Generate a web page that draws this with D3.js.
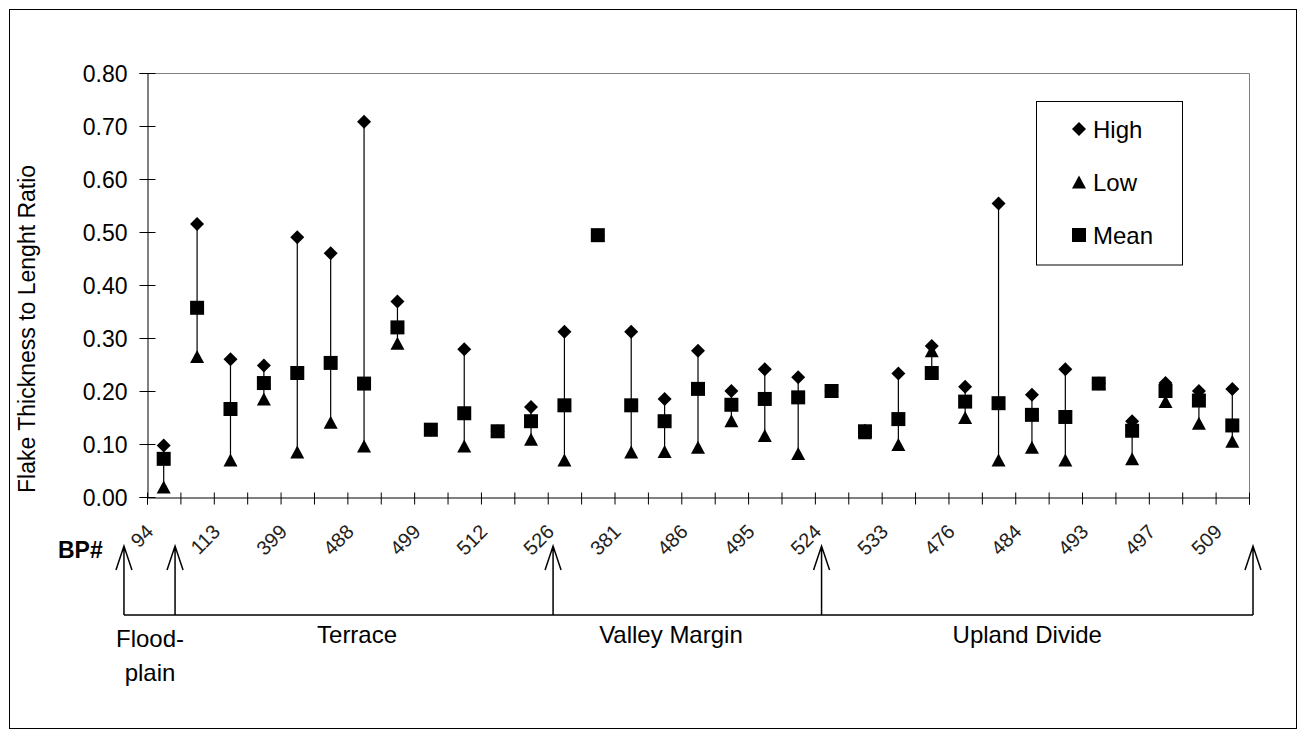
<!DOCTYPE html>
<html>
<head>
<meta charset="utf-8">
<script src="https://cdn.jsdelivr.net/npm/d3@7"></script>
<style>
  body { margin: 0; background: #fff; }
  svg { display: block; }
  text { font-family: "Liberation Sans", Arial, sans-serif; fill: #000; }
</style>
</head>
<body>
<svg id="chart" width="1305" height="737"></svg>
<script>
// 33 sites (BP#), only every other label is printed on the source chart
var bpLabels = ["94", "", "113", "", "399", "", "488", "", "499", "", "512", "", "526", "",
  "381", "", "486", "", "495", "", "524", "", "533", "", "476", "", "484", "", "493", "",
  "497", "", "509"];

var high = [0.097, 0.515, 0.26, 0.248, 0.49, 0.46, 0.708, 0.369, 0.127, 0.279, 0.124,
  0.17, 0.312, 0.494, 0.312, 0.185, 0.276, 0.2, 0.241, 0.226, 0.2, 0.125, 0.233, 0.285,
  0.208, 0.554, 0.193, 0.241, 0.214, 0.143, 0.215, 0.2, 0.204];
var low = [0.019, 0.265, 0.07, 0.185, 0.085, 0.141, 0.096, 0.29, 0.127, 0.096, 0.124,
  0.109, 0.07, 0.494, 0.085, 0.086, 0.094, 0.144, 0.116, 0.082, 0.2, 0.121, 0.099, 0.276,
  0.15, 0.07, 0.094, 0.07, 0.214, 0.072, 0.18, 0.139, 0.105];
var mean = [0.072, 0.357, 0.166, 0.215, 0.234, 0.253, 0.214, 0.32, 0.127, 0.158, 0.124,
  0.143, 0.173, 0.494, 0.173, 0.143, 0.204, 0.174, 0.185, 0.188, 0.2, 0.124, 0.147, 0.234,
  0.18, 0.177, 0.155, 0.151, 0.214, 0.125, 0.2, 0.182, 0.135];

var yTicks = [0, 0.1, 0.2, 0.3, 0.4, 0.5, 0.6, 0.7, 0.8];
var seriesNames = ["High", "Low", "Mean"];

// landform zones under the axis (boundaries in category units)
var zoneNames = [["Flood-", "plain"], ["Terrace"], ["Valley Margin"], ["Upland Divide"]];
var zoneBounds = [-0.69, 0.84, 12.16, 20.2, 33.12];
var zoneLabelAt = [0.09, 6.29, 15.69, 26.36];

var svg = d3.select("#chart");
var plotLeft = 147, plotRight = 1249, plotTop = 73, plotBottom = 497;

var x = d3.scaleLinear().domain([0, bpLabels.length]).range([plotLeft, plotRight]);
var y = d3.scaleLinear().domain([0, 0.8]).range([plotBottom, plotTop]);

// outer frame
svg.append("rect")
  .attr("x", 9.5).attr("y", 9.5)
  .attr("width", 1287).attr("height", 719)
  .attr("fill", "none").attr("stroke", "#000");

// plot area top/right border
svg.append("path")
  .attr("d", "M" + plotLeft + "," + (plotTop + 0.5) + "H" + (plotRight + 0.5) + "V" + plotBottom)
  .attr("fill", "none").attr("stroke", "#808080");

// y axis
var yAxis = svg.append("g")
  .attr("transform", "translate(" + (plotLeft + 0.5) + ",0)")
  .call(d3.axisLeft(y).tickValues(yTicks).tickFormat(d3.format(".2f")).tickSize(8));
yAxis.select(".domain").attr("stroke", "#000");
yAxis.selectAll(".tick line").attr("x1", -8).attr("x2", 8).attr("stroke", "#000");
yAxis.selectAll(".tick text")
  .attr("x", -20).attr("dy", "0.36em")
  .style("font-size", "23px").style("font-family", "'Liberation Sans', Arial, sans-serif");

// x axis (ticks at category boundaries)
var xAxis = svg.append("g")
  .attr("transform", "translate(0," + (plotBottom + 0.5) + ")")
  .call(d3.axisBottom(x).tickValues(d3.range(bpLabels.length + 1)).tickFormat("").tickSize(7));
xAxis.select(".domain").attr("stroke", "#000");
xAxis.selectAll(".tick line").attr("y1", -5).attr("y2", 7).attr("stroke", "#000");

// rotated BP labels
svg.append("g").selectAll("text")
  .data(bpLabels.map(function(d, i) { return { name: d, i: i }; }).filter(function(d) { return d.name; }))
  .enter().append("text")
  .attr("transform", function(d) {
    return "translate(" + (x(d.i + 0.5) - 9) + ",533) rotate(-45)";
  })
  .attr("text-anchor", "end")
  .style("font-size", "20px")
  .style("fill", "#222")
  .text(function(d) { return d.name; });

svg.append("text")
  .attr("x", 58).attr("y", 558)
  .style("font-size", "23px").style("font-weight", "bold")
  .text("BP#");

// y title
svg.append("text")
  .attr("transform", "translate(35,493) rotate(-90)")
  .attr("text-anchor", "start")
  .style("font-size", "23px")
  .text("Flake Thickness to Lenght Ratio");

// high-low lines
var rows = bpLabels.map(function(d, i) {
  return { i: i, high: high[i], low: low[i], mean: mean[i] };
});

svg.append("g").selectAll("line")
  .data(rows)
  .enter().append("line")
  .attr("x1", function(d) { return x(d.i + 0.5); })
  .attr("x2", function(d) { return x(d.i + 0.5); })
  .attr("y1", function(d) { return y(Math.max(d.high, d.low, d.mean)); })
  .attr("y2", function(d) { return y(Math.min(d.high, d.low, d.mean)); })
  .attr("stroke", "#000").attr("stroke-width", 1.2);

// marker shapes
function diamond(r) { return "M0," + (-r) + "L" + r + ",0L0," + r + "L" + (-r) + ",0Z"; }
function triangle(w, h) { return "M0," + (-h / 2) + "L" + (w / 2) + "," + (h / 2) + "L" + (-w / 2) + "," + (h / 2) + "Z"; }
function square(s) { return "M" + (-s / 2) + "," + (-s / 2) + "h" + s + "v" + s + "h" + (-s) + "Z"; }
var shapes = { High: diamond(7), Low: triangle(14, 13), Mean: square(14) };

seriesNames.forEach(function(name) {
  var key = name.toLowerCase();
  svg.append("g").selectAll("path")
    .data(rows)
    .enter().append("path")
    .attr("d", shapes[name])
    .attr("transform", function(d) { return "translate(" + x(d.i + 0.5) + "," + y(d[key]) + ")"; })
    .attr("fill", "#000");
});

// legend
var legend = svg.append("g");
legend.append("rect")
  .attr("x", 1036.5).attr("y", 101.5)
  .attr("width", 146).attr("height", 163.5)
  .attr("fill", "#fff").attr("stroke", "#000");
var legendItem = legend.selectAll("g.item")
  .data(seriesNames)
  .enter().append("g")
  .attr("class", "item")
  .attr("transform", function(d, i) { return "translate(1079," + (129 + i * 53) + ")"; });
legendItem.append("path")
  .attr("d", function(d) { return shapes[d]; })
  .attr("fill", "#000");
legendItem.append("text")
  .attr("x", 14).attr("dy", "0.36em")
  .style("font-size", "24px")
  .text(function(d) { return d; });

// zone arrows
var zoneY = 615, tipY = 546;
var zones = svg.append("g").attr("stroke", "#000").attr("stroke-width", 1.5).attr("fill", "none");
zones.append("line")
  .attr("x1", x(zoneBounds[0])).attr("x2", x(zoneBounds[zoneBounds.length - 1]))
  .attr("y1", zoneY).attr("y2", zoneY);
zones.selectAll("path")
  .data(zoneBounds)
  .enter().append("path")
  .attr("d", function(b) {
    var px = x(b);
    return "M" + px + "," + zoneY + "V" + tipY +
      "M" + (px - 8) + "," + (tipY + 24) + "L" + px + "," + tipY + "L" + (px + 8) + "," + (tipY + 24);
  });

svg.append("g").selectAll("text")
  .data(zoneNames)
  .enter().append("text")
  .attr("x", function(d, i) { return x(zoneLabelAt[i]); })
  .attr("y", function(d) { return d.length > 1 ? 647 : 643; })
  .attr("text-anchor", "middle")
  .style("font-size", "24px")
  .each(function(d) {
    var t = d3.select(this);
    d.forEach(function(line, k) {
      t.append("tspan")
        .attr("x", t.attr("x"))
        .attr("dy", k === 0 ? 0 : 34)
        .text(line);
    });
  });
</script>
</body>
</html>
